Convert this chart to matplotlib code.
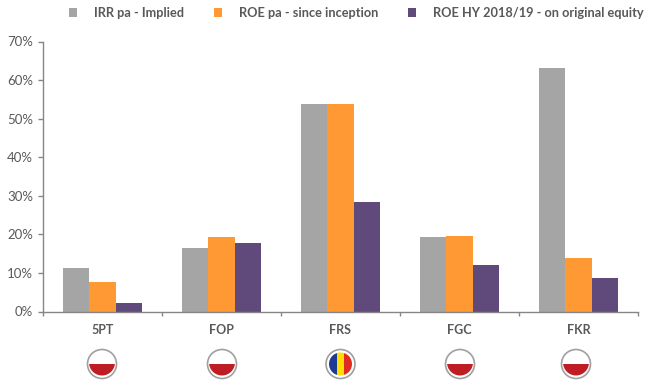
import matplotlib
matplotlib.use("Agg")
import matplotlib.pyplot as plt
from matplotlib.patches import Circle, Rectangle
import numpy as np

plt.rcParams['font.family'] = ['Lato', 'DejaVu Sans']

funds = ["5PT", "FOP", "FRS", "FGC", "FKR"]
flags = ["PL", "PL", "RO", "PL", "PL"]
irr = [11.3, 16.5, 53.8, 19.3, 63.2]
roe_inception = [7.7, 19.3, 53.8, 19.6, 14.0]
roe_hy = [2.1, 17.7, 28.3, 12.0, 8.6]
series_names = ["IRR pa - Implied", "ROE pa - since inception", "ROE HY 2018/19 - on original equity"]
colours = ["#A5A5A5", "#FF9933", "#604A7B"]
y_ticks = [0, 10, 20, 30, 40, 50, 60, 70]

W, H = 662, 386
TXT = "#595959"
AXC = "#868686"

fig = plt.figure(figsize=(W / 100, H / 100), dpi=100)
ax = fig.add_axes([43 / W, (H - 311.5) / H, 595 / W, 270 / H])

x = np.arange(len(funds))
bw = 0.221
for i, (vals, c, name) in enumerate(zip([irr, roe_inception, roe_hy], colours, series_names)):
    ax.bar(x + (i - 1) * bw, vals, bw, color=c, label=name, linewidth=0)

ax.set_xlim(-0.5, 4.5)
ax.set_ylim(0, 70)
ax.set_yticks(y_ticks)
ax.set_yticklabels([f"{v}%" for v in y_ticks], fontsize=9.5, color=TXT)
ax.set_xticks(x)
ax.set_xticklabels(funds, fontsize=9, color=TXT, fontweight="bold")
ax.tick_params(axis="x", length=0, pad=9)
ax.tick_params(axis="y", length=3.6, width=1, color=AXC, pad=3.5)
ax.set_xticks(np.arange(-0.5, 5, 1), minor=True)
ax.tick_params(axis="x", which="minor", length=3, width=1, color=AXC)
for s in ["top", "right"]:
    ax.spines[s].set_visible(False)
for s in ["left", "bottom"]:
    ax.spines[s].set_color(AXC)
    ax.spines[s].set_linewidth(1.0)

# legend along the top
leg = fig.legend(loc="upper left", bbox_to_anchor=(69 / W, 1 - 7 / H), ncol=3, frameon=False,
                 prop={"size": 9.15, "weight": "bold"}, handlelength=0.62, handleheight=0.62,
                 handletextpad=1.35, columnspacing=2.35, labelcolor=TXT, borderaxespad=0, borderpad=0)

# flags under each category, overlay in pixel coordinates
ov = fig.add_axes([0, 0, 1, 1], facecolor="none")
ov.set_xlim(0, W)
ov.set_ylim(H, 0)
ov.axis("off")
flag_x = [102, 222, 340.5, 460, 576]
cy = 364
for cx, f in zip(flag_x, flags):
    ov.add_patch(Circle((cx, cy), 14.5, fc="white", ec="#A0A0A0", lw=1.2))
    if f == "PL":
        # red bowl: circle cut off by a flat top
        bowl = Circle((cx, cy - 1.5), 13, fc="#BE1E23", lw=0)
        ov.add_patch(bowl)
        bowl.set_clip_path(Rectangle((cx - 14, cy), 28, 14, transform=ov.transData))
    else:
        clip = Circle((cx, cy), 11.5, transform=ov.transData)
        for j, c in enumerate(["#1F3A93", "#FFDD00", "#E02B20"]):
            r = Rectangle((cx - 11.5 + j * 7.67, cy - 12), 7.67, 24, fc=c, lw=0)
            ov.add_patch(r)
            r.set_clip_path(clip)

fig.savefig("out.png", dpi=100)
